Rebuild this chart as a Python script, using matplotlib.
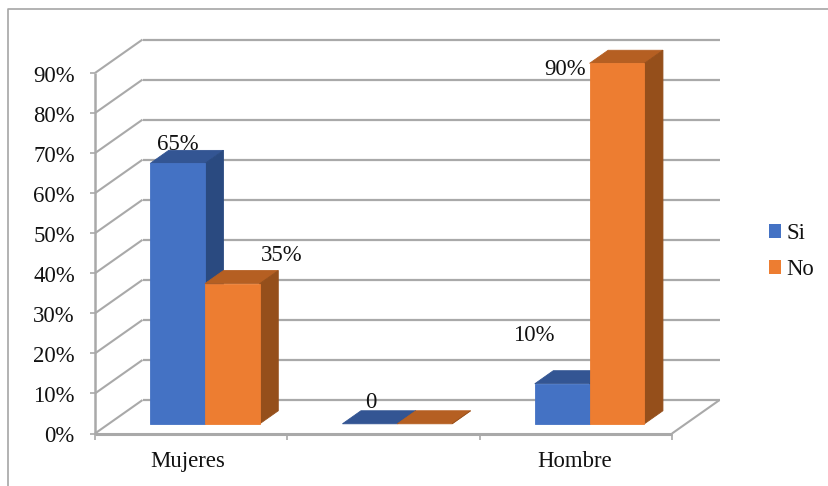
import matplotlib
matplotlib.use('Agg')
import matplotlib.pyplot as plt
from matplotlib.patches import Polygon, Patch

plt.rcParams['font.family'] = ['Liberation Serif', 'DejaVu Serif']

# Data
categories = ['Mujeres', '', 'Hombre']
si_values = [65, 0, 10]
no_values = [35, 0, 90]
si_labels = ['65%', '0', '10%']
no_labels = ['35%', '', '90%']
y_ticks = list(range(0, 100, 10))

# Colours for the faces of the bars
blue = '#4472C4'
blue_top = '#335593'
blue_side = '#2A4A80'
orange = '#ED7D31'
orange_top = '#B55F22'
orange_side = '#954F1B'
grid_color = '#A9A9A9'

W, H = 829, 486
fig = plt.figure(figsize=(W / 100, H / 100), dpi=100)

# The axes box is the front plane of the 3D chart
left, right, bottom, top = 95, 672, 433.5, 73
ax = fig.add_axes([left / W, 1 - bottom / H, (right - left) / W, (bottom - top) / H])
ax.set_xlim(0, 3)
ax.set_ylim(0, 90)
ax.axis('off')

# Depth of the floor and of the bars, in data units
depth_x = 47.5 / 192.33
depth_y = 33.5 / 4.011
bar_front = 0.29
bar_back = 0.68
bar_width = 0.285


def project(x, y, d):
    return (x + d * depth_x, y + d * depth_y)


def face(points, color, zorder, edge=None):
    ax.add_patch(Polygon(points, closed=True, facecolor=color, edgecolor=edge or color,
                         linewidth=0.6, zorder=zorder, clip_on=False))


def line(xs, ys, lw=1.6, zorder=1):
    ax.plot(xs, ys, color=grid_color, lw=lw, zorder=zorder, clip_on=False,
            solid_capstyle='butt')


def draw_bar(x0, value, front, top_color, side_color, zorder):
    x1 = x0 + bar_width
    corners = [project(x0, 0, bar_front), project(x1, 0, bar_front),
               project(x1, value, bar_front), project(x0, value, bar_front)]
    # top face
    face([project(x0, value, bar_front), project(x1, value, bar_front),
          project(x1, value, bar_back), project(x0, value, bar_back)], top_color, zorder)
    # side face
    face([project(x1, 0, bar_front), project(x1, 0, bar_back),
          project(x1, value, bar_back), project(x1, value, bar_front)], side_color, zorder)
    # front face
    if value > 0:
        face(corners, front, zorder + 0.1)


# Back wall gridlines and the diagonals running down the side wall
for t in y_ticks:
    x_b, y_b = project(0, t, 1)
    x_r, _ = project(3, t, 1)
    line([x_b, x_r], [y_b, y_b])
    line([0, x_b], [t, y_b], lw=1.5)
    line([-5 / 192.33, 0], [t, t], lw=1.2)

# Axis lines, floor edges and tick marks
line([0, 0], [0, 90], lw=1.8, zorder=1.5)
line([0, 3], [0, 0], lw=2.2, zorder=1.5)
x_r, y_r = project(3, 0, 1)
line([3, x_r], [0, y_r], lw=1.5)
for i in range(4):
    line([i, i], [0, -1.6], lw=1.2)

# Bars, drawn left to right so the neighbouring faces overlap correctly
for i in range(len(categories)):
    x_start = i + 0.5 - bar_width
    draw_bar(x_start, si_values[i], blue, blue_top, blue_side, 3 + i)
    draw_bar(x_start + bar_width, no_values[i], orange, orange_top, orange_side, 3.5 + i)

# Tick labels
for t in y_ticks:
    ax.text(-0.105, t - 0.75, f'{t}%', ha='right', va='center', fontsize=16.4,
            color='#111111', clip_on=False)
for i, name in enumerate(categories):
    ax.text(0.481 + i * 1.0065, -7.05, name, ha='center', va='center', fontsize=16.4,
            color='#111111', clip_on=False)

# Value labels, each anchored on the bar it describes
si_offsets = [(0.145, 4.7, 'center'), (0.145, 5.3, 'center'), (-0.005, 11.95, 'center')]
no_offsets = [(0.398, 7.1, 'center'), (0, 0, 'center'), (-0.02, -1.65, 'right')]
for i in range(len(categories)):
    x_start = i + 0.5 - bar_width
    x_b, y_b = project(x_start, si_values[i], bar_front)
    dx, dy, ha = si_offsets[i]
    ax.text(x_b + dx, y_b + dy, si_labels[i], ha=ha, va='center', fontsize=16.4,
            color='#111111', zorder=12)
    if no_labels[i]:
        x_b, y_b = project(x_start + bar_width, no_values[i], bar_front)
        dx, dy, ha = no_offsets[i]
        ax.text(x_b + dx, y_b + dy, no_labels[i], ha=ha, va='center', fontsize=16.4,
                color='#111111', zorder=12)

# Outer frame of the chart area: only the left and top edges show
fig.add_artist(plt.Line2D([8 / W, 8 / W, 1], [0, 1 - 9 / H, 1 - 9 / H], color='#A6A6A6', lw=1.2))

# Legend
handles = [Patch(facecolor=blue, label='Si'), Patch(facecolor=orange, label='No')]
fig.legend(handles=handles, loc='center left', bbox_to_anchor=(769 / W, 1 - 251.5 / H),
           frameon=False, fontsize=16.4, handlelength=0.53, handleheight=0.53,
           handletextpad=0.22, labelspacing=0.67, borderpad=0, borderaxespad=0,
           labelcolor='#111111')

fig.savefig('out.png', dpi=100, facecolor='white')
